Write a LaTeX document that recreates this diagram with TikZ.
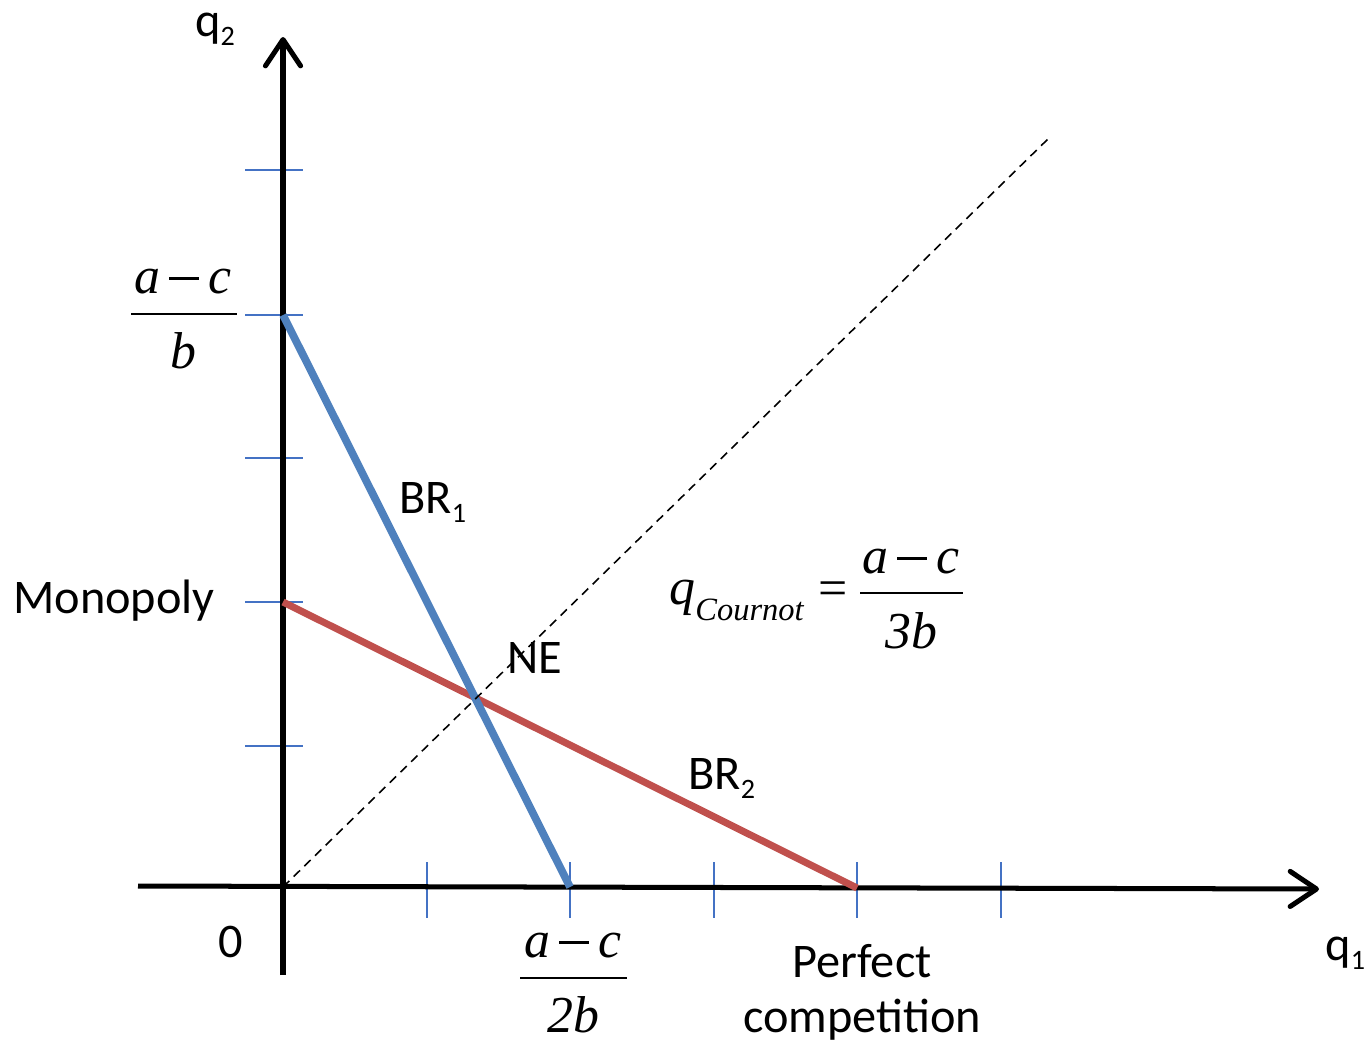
\documentclass[tikz,border=0pt]{standalone}
\usepackage{fontspec}
\setmainfont{Carlito}
\newfontfamily\tms{Liberation Serif}
\usetikzlibrary{arrows.meta}
\definecolor{tickblue}{RGB}{68,114,196}
\definecolor{brblue}{RGB}{79,129,189}
\definecolor{brred}{RGB}{192,80,77}
\newcommand{\subtx}[1]{{\fontsize{16}{16}\selectfont\raisebox{-5.5pt}{#1}}}
\newcommand{\amc}{a\hspace{0.17em}\rule[0.255em]{0.58em}{0.05em}\hspace{0.17em}c}
\begin{document}
\begin{tikzpicture}[x=0.02cm,y=-0.02cm,
  lbl/.style={font=\fontsize{27.5}{30}\selectfont, inner sep=0, anchor=base west},
  mth/.style={font=\fontsize{29.5}{32}\selectfont\tms\itshape, inner sep=0, anchor=base},
  axis/.style={line width=2.85pt, black, -{Straight Barb[length=15pt,width=20pt,round]}},
  tick/.style={line width=1.2pt, tickblue},
  fracbar/.style={line width=1.4pt, black},
  brone/.style={line width=4.4pt, brblue},
  brtwo/.style={line width=4pt, brred},
  diag/.style={line width=0.9pt, black, dash pattern=on 5pt off 3.5pt}]
\useasboundingbox (0,0) rectangle (1369,1042);
% coordinates
\coordinate (O) at (283,887);
\coordinate (ybot) at (283,975);
\coordinate (ytop) at (283,37);
\coordinate (xleft) at (138,886);
\coordinate (xright) at (1319,889);
\coordinate (b1s) at (283,315);
\coordinate (b1e) at (570,887);
\coordinate (b2s) at (283,602);
\coordinate (b2e) at (857,888);
\coordinate (dend) at (1050,137);
% ticks
\foreach \yy/\nm in {170/ya,315/yb,458/yc,602/yd,746/ye}{
  \coordinate (\nm l) at (245,\yy); \coordinate (\nm r) at (303,\yy);
  \draw[tick] (\nm l) -- (\nm r);}
\foreach \xx/\nm in {427/xa,570/xb,714/xc,857/xd,1001/xe}{
  \coordinate (\nm t) at (\xx,862); \coordinate (\nm b) at (\xx,918);
  \draw[tick] (\nm t) -- (\nm b);}
% axes
\draw[axis] (ybot) -- (ytop);
\draw[axis] (xleft) -- (xright);
% best responses
\draw[brtwo] (b2s) -- (b2e);
\draw[brone] (b1s) -- (b1e);
% diagonal
\draw[diag] (O) -- (dend);
% axis labels
\node[lbl] (q2) at (195,36) {q\subtx{2}};
\node[lbl] (q1) at (1325,960) {q\subtx{1}};
\node[lbl] (zero) at (218,957) {0};
\node[lbl] (mono) at (13,613) {Monopoly};
\node[lbl] (br1) at (399,513) {BR\subtx{1}};
\node[lbl] (br2) at (688,789) {BR\subtx{2}};
\node[lbl] (ne) at (507,673) {NE};
\node[lbl, anchor=base] (perf) at (862,977) {Perfect};
\node[lbl, anchor=base] (comp) at (862,1032) {competition};
% fraction (a-c)/b
\node[mth] (f1n) at (183,293) {\amc};
\coordinate (f1l) at (131,314); \coordinate (f1r) at (237,314);
\draw[fracbar] (f1l) -- (f1r);
\node[mth] (f1d) at (183,368) {b};
% fraction (a-c)/2b
\node[mth] (f2n) at (573,957) {\amc};
\coordinate (f2l) at (520,978); \coordinate (f2r) at (627,978);
\draw[fracbar] (f2l) -- (f2r);
\node[mth] (f2d) at (573,1032) {2b};
% q_Cournot = (a-c)/3b
\node[mth, anchor=base west] (qc) at (669,604) {q};
\node[font=\fontsize{18.5}{20}\selectfont\tms\itshape, inner sep=0, anchor=base west] (qcs) at (695,620) {Cournot};
\node[font=\fontsize{29.5}{32}\selectfont\tms, inner sep=0] (eq) at (833,594) {=};
\node[mth] (f3n) at (911,573) {\amc};
\coordinate (f3l) at (860,593); \coordinate (f3r) at (963,593);
\draw[fracbar] (f3l) -- (f3r);
\node[mth] (f3d) at (911,648) {3b};
\end{tikzpicture}
\end{document}
